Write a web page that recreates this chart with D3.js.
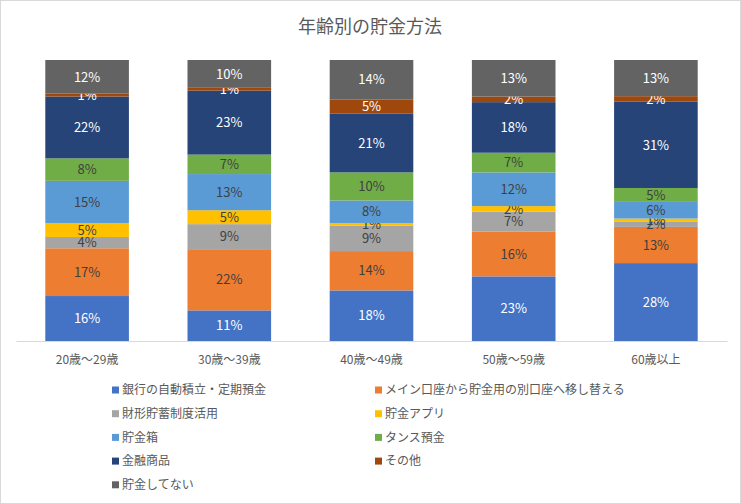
<!DOCTYPE html>
<html>
<head>
<meta charset="utf-8">
<script src="https://cdn.jsdelivr.net/npm/d3@7"></script>
<style>
	body {margin:0; background:#fff;}
	svg {font-family:"Noto Sans CJK JP","Noto Sans",sans-serif;}
</style>
</head>
<body>
<div id="idChart"></div>
<script>
var aCategories=["20歳〜29歳","30歳〜39歳","40歳〜49歳","50歳〜59歳","60歳以上"];
var aSeries=["銀行の自動積立・定期預金","メイン口座から貯金用の別口座へ移し替える","財形貯蓄制度活用","貯金アプリ","貯金箱","タンス預金","金融商品","その他","貯金してない"];
var aBank=[16,11,18,23,28];
var aTransfer=[17,22,14,16,13];
var aZaikei=[4,9,9,7,2];
var aApp=[5,5,1,2,1];
var aBox=[15,13,8,12,6];
var aTansu=[8,7,10,7,5];
var aFinance=[22,23,21,18,31];
var aOther=[1,1,5,2,2];
var aNone=[12,10,14,13,13];

var aValues=[aBank,aTransfer,aZaikei,aApp,aBox,aTansu,aFinance,aOther,aNone];
var aColors=["#4472C4","#ED7D31","#A5A5A5","#FFC000","#5B9BD5","#70AD47","#264478","#9E480E","#636363"];
var aLabelColors=["#ffffff","#404040","#404040","#404040","#404040","#404040","#ffffff","#ffffff","#ffffff"];

var iWidth=741;
var iHeight=504;

var myCanvas=d3.select("#idChart").append("svg")
	.attr("width",iWidth)
	.attr("height",iHeight);

myCanvas.append("rect")
	.attr("x",0.5).attr("y",0.5)
	.attr("width",iWidth-1).attr("height",iHeight-1)
	.attr("fill","#fff")
	.attr("stroke","#d9d9d9");

myCanvas.append("text")
	.attr("x",370).attr("y",33)
	.attr("text-anchor","middle")
	.attr("font-size",18)
	.attr("fill","#595959")
	.text("年齢別の貯金方法");

// rows for d3.stack
var aRows=aCategories.map(function(sCat,i){
	var oRow={cat:sCat};
	aSeries.forEach(function(sName,j){oRow[sName]=aValues[j][i];});
	return oRow;
});

var myStack=d3.stack()
	.keys(aSeries)
	.offset(d3.stackOffsetExpand);
var aLayers=myStack(aRows);

var xScale=d3.scaleBand()
	.domain(aCategories)
	.range([16,727])
	.paddingInner(0.412)
	.paddingOuter(0.206);

var yScale=d3.scaleLinear()
	.domain([0,1])
	.range([341,60]);

var myGraphics=myCanvas.append("g");

var myLayers=myGraphics.selectAll(".layer")
	.data(aLayers)
	.enter()
	.append("g")
		.attr("class","layer")
		.attr("fill",function(myLayer,i){return aColors[i];});

myLayers.selectAll("rect")
	.data(function(myLayer){return myLayer;})
	.enter()
	.append("rect")
		.attr("x",function(d){return xScale(d.data.cat);})
		.attr("y",function(d){return yScale(d[1]);})
		.attr("width",xScale.bandwidth())
		.attr("height",function(d){return yScale(d[0])-yScale(d[1]);});

myLayers.each(function(myLayer,i){
	d3.select(this).selectAll("text")
		.data(myLayer)
		.enter()
		.append("text")
			.attr("x",function(d){return xScale(d.data.cat)+xScale.bandwidth()/2;})
			.attr("y",function(d){return (yScale(d[0])+yScale(d[1]))/2;})
			.attr("dy","0.36em")
			.attr("text-anchor","middle")
			.attr("font-size",13)
			.attr("fill",aLabelColors[i])
			.text(function(d){return d.data[myLayer.key]+"%";});
});

var xAxis=myCanvas.append("g")
	.attr("transform","translate(0,341)")
	.call(d3.axisBottom(xScale).tickSize(0).tickPadding(14));
xAxis.select(".domain").attr("stroke","#d9d9d9");
xAxis.selectAll("text")
	.attr("font-size",12)
	.attr("fill","#595959")
	.attr("font-family","\"Noto Sans CJK JP\",sans-serif");

// legend, two columns
var myLegend=myCanvas.append("g");
var myItems=myLegend.selectAll(".item")
	.data(aSeries)
	.enter()
	.append("g")
		.attr("class","item")
		.attr("transform",function(s,i){
			return "translate("+(i%2==0 ? 112 : 375)+","+(390+Math.floor(i/2)*23.7)+")";
		});

myItems.append("rect")
	.attr("x",0).attr("y",-3.5)
	.attr("width",7).attr("height",7)
	.attr("fill",function(s,i){return aColors[i];});

myItems.append("text")
	.attr("x",10).attr("y",0)
	.attr("dy","0.36em")
	.attr("font-size",12)
	.attr("fill","#595959")
	.text(function(s){return s;});
</script>
</body>
</html>
